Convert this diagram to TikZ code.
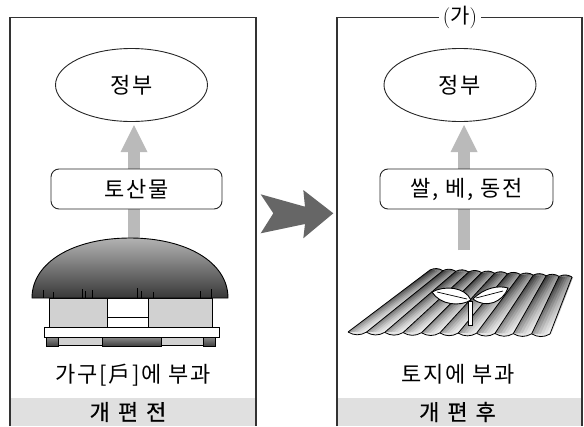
\documentclass[tikz,border=0pt]{standalone}
\usepackage{fontspec}
\newfontfamily\krfont[LetterSpace=8]{Noto Sans CJK KR}
\newfontfamily\krbot[FakeBold=0.6]{Noto Sans CJK KR}
\usetikzlibrary{calc,shapes.geometric}
\begin{document}
\begin{tikzpicture}[x=1pt,y=-1pt,
  every node/.style={font=\krfont\fontsize{22}{26}\selectfont},
  panel/.style={draw=black!80,line width=1.3pt},
  band/.style={fill=black!12},
  botlab/.style={font=\krbot\fontsize{22}{26}\selectfont},
  gov/.style={ellipse,draw=black!85,line width=0.9pt,minimum width=152pt,minimum height=73pt,inner sep=0pt},
  itembox/.style={draw=black!85,line width=0.9pt,rounded corners=8pt,fill=white,minimum height=40pt,inner sep=0pt},
  upgray/.style={fill=black!27},
  shaft/.style={draw=black!27,line width=12pt},
  bigarr/.style={fill=black!60},
  outl/.style={draw=black,line width=0.9pt},
]
\useasboundingbox (0,0) rectangle (584,426);
\fill[white] (0,0) rectangle (584,426);

% bottom bands
\fill[band] (10,398) rectangle (256,426);
\fill[band] (337,398) rectangle (582,426);
% panels
\draw[panel] (10,426) -- (10,17.5) -- (256,17.5) -- (256,426);
\draw[panel] (337,426) -- (337,17.5) -- (582,17.5) -- (582,426);
\node[fill=white,inner sep=4pt,font=\krfont\fontsize{21}{24}\selectfont] (title) at (460,17.5) {{\rmfamily(}가{\rmfamily)}};

% government ellipses
\node[gov] (gov1) at (131.5,85) {정부};
\node[gov] (gov2) at (460,85) {정부};

% up arrows
\coordinate (base1) at (134,242);
\coordinate (tip1) at (134,125);
\draw[shaft] (base1) -- ($(tip1)+(0,26)$);
\fill[upgray] (tip1) -- ($(tip1)+(13.5,27)$) -- ($(tip1)+(-13.5,27)$) -- cycle;
\coordinate (base2) at (464,250);
\coordinate (tip2) at (464,125);
\draw[shaft] (base2) -- ($(tip2)+(0,26)$);
\fill[upgray] (tip2) -- ($(tip2)+(13.5,27)$) -- ($(tip2)+(-13.5,27)$) -- cycle;

% boxes
\node[itembox,minimum width=171pt] (box1) at (136.5,189) {토산물};
\node[itembox,minimum width=173pt] (box2) at (466.5,189) {쌀, 베, 동전};

% big arrow between panels
\fill[bigarr] (260.7,194.3) -- (305,206.7) -- (303.3,190) -- (333.3,213.3) -- (303.3,238.3) -- (305,224) -- (260.7,233.3) -- (273.3,213.3) -- cycle;

% house: foundation
\draw[outl,fill=black!18] (50,337) rectangle (213,345);
\shadedraw[outl,top color=black!45,bottom color=black!75] (46,337) rectangle (58,346);
\shadedraw[outl,top color=black!45,bottom color=black!75] (102,337) rectangle (161,346);
\shadedraw[outl,top color=black!45,bottom color=black!75] (203,337) rectangle (215,346);
% platform
\draw[outl,fill=white] (44,327) rectangle (219,337);
% walls
\draw[outl,fill=black!18] (49,298) rectangle (107,327);
\draw[outl,fill=white] (107,298) rectangle (148,327);
\draw[outl] (107,317) -- (148,317);
\draw[outl,fill=black!18] (148,298) rectangle (212,327);
% roof
\shadedraw[outl,top color=black!30,bottom color=black!78] (32,298) .. controls (32,262) and (74,238) .. (130,238) .. controls (186,238) and (228,262) .. (228,298) -- cycle;
\foreach \x/\t in {43/290,53/292,82/289,85/291,92/290,137/288,141/291,153/292,200/291,211/289}
  \draw[line width=0.7pt] (\x,\t) -- (\x,298);

% field
\coordinate (fA) at (348,332);
\coordinate (fB) at (550,334);
\coordinate (fC) at (572,277);
\coordinate (fD) at (430,270);
\foreach \i in {0,...,10}{
  \foreach \j/\ct/\cb in {0/78/38,1/70/30,2/62/22,3/54/15,4/46/10,5/40/6}{
    \shade[top color=black!\ct,bottom color=black!\cb]
      ($(fA)!{(\i+\j/6)/11}!(fB)$) -- ($(fD)!{(\i+\j/6)/11}!(fC)$)
      -- ($(fD)!{(\i+\j/6+0.25)/11}!(fC)$) -- ($(fA)!{(\i+\j/6+0.25)/11}!(fB)$) -- cycle;
  }
  \filldraw[fill=black!60,draw=black,line width=0.8pt]
    ($(fD)!{\i/11}!(fC)$) to[bend left=28] ($(fD)!{(\i+1)/11}!(fC)$);
  \filldraw[fill=black!10,draw=black,line width=0.8pt]
    ($(fA)!{\i/11}!(fB)$) to[bend right=30] ($(fA)!{(\i+1)/11}!(fB)$);
}
\foreach \i in {0,...,11}
  \draw[line width=0.8pt] ($(fA)!{\i/11}!(fB)$) -- ($(fD)!{\i/11}!(fC)$);

% sprout
\draw[outl,fill=white] (468,301) rectangle (472,325);
\draw[outl,fill=white] (471,300) .. controls (460,307) and (440,305) .. (432,292) .. controls (445,285) and (465,287) .. (471,300) -- cycle;
\draw[line width=0.7pt] (437,292) -- (467,299);
\draw[outl,fill=white] (473,299) .. controls (484,288) and (498,285) .. (508,288) .. controls (503,302) and (486,309) .. (473,299) -- cycle;
\draw[line width=0.7pt] (476,298) -- (503,291);

% labels
\node (lab1) at (133,375) {가구[戶]에 부과};
\node (lab2) at (458,374) {토지에 부과};
\node[botlab] (bot1) at (128,412) {개\kern8pt 편\hspace{3pt} 전};
\node[botlab] (bot2) at (457.5,412) {개\kern8pt 편\hspace{3pt} 후};
\end{tikzpicture}
\end{document}
